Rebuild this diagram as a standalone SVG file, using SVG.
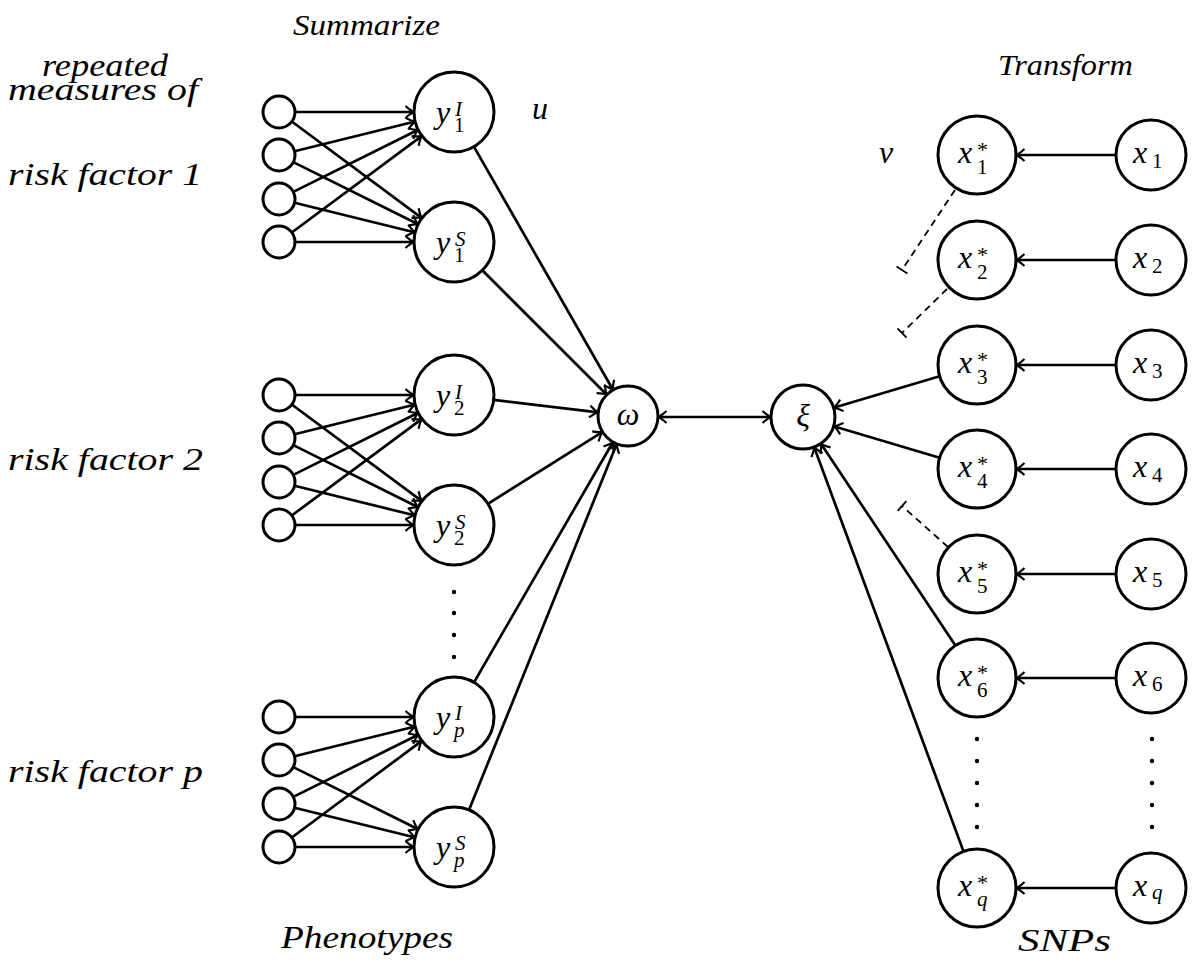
<svg xmlns="http://www.w3.org/2000/svg" width="1200" height="965" viewBox="0 0 1200 965">
<style>
.n{fill:#fff;stroke:#000;stroke-width:3}
.e{fill:none;stroke:#000;stroke-width:2.7}
.d{fill:none;stroke:#000;stroke-width:1.8;stroke-dasharray:7 5}
.t{font-style:italic;font-size:32px}
.h{font-style:italic;font-size:30px}
.m{font-style:italic;font-size:32px}
.si{font-style:italic;font-size:21px}
.sr{font-size:21px}
.ast{font-size:22px}
.dot{fill:#000}
</style>
<defs>
<marker id="arr" viewBox="-10 -7 12 14" refX="0" refY="0" markerWidth="12" markerHeight="14" markerUnits="userSpaceOnUse" orient="auto-start-reverse">
<path d="M-8.5,-6 Q-3,-1 0,0 Q-3,1 -8.5,6" fill="none" stroke="#000" stroke-width="2.2"/>
</marker>
<marker id="bar" viewBox="-2 -8 4 16" refX="0" refY="0" markerWidth="4" markerHeight="16" markerUnits="userSpaceOnUse" orient="auto">
<path d="M0,-6.5 L0,6.5" fill="none" stroke="#000" stroke-width="1.8"/>
</marker>
</defs>
<rect width="1200" height="965" fill="#fff"/>

<g id="connectors">
<g marker-end="url(#arr)" class="e">
<path class="e" d="M295 112 L414 112"/>
<path class="e" d="M291.8 121.5 L421.9 218.2"/>
<path class="e" d="M294.5 151.2 L415.2 121.5"/>
<path class="e" d="M293.3 162.1 L418.2 224.2"/>
<path class="e" d="M293.3 191.9 L418.2 129.8"/>
<path class="e" d="M294.5 202.8 L415.2 232.5"/>
<path class="e" d="M291.8 232.5 L421.9 135.8"/>
<path class="e" d="M295 242 L414 242"/>
<path class="e" d="M295 395 L414 395"/>
<path class="e" d="M291.8 404.5 L421.9 501.2"/>
<path class="e" d="M294.5 434.2 L415.2 404.5"/>
<path class="e" d="M293.3 445.1 L418.2 507.2"/>
<path class="e" d="M293.3 474.9 L418.2 412.8"/>
<path class="e" d="M294.5 485.8 L415.2 515.5"/>
<path class="e" d="M291.8 515.5 L421.9 418.8"/>
<path class="e" d="M295 525 L414 525"/>
<path class="e" d="M295 717 L414 717"/>
<path class="e" d="M294.5 756.2 L415.2 726.5"/>
<path class="e" d="M293.3 767.1 L418.2 829.2"/>
<path class="e" d="M293.3 796.9 L418.2 734.8"/>
<path class="e" d="M294.5 807.8 L415.2 837.5"/>
<path class="e" d="M291.8 837.5 L421.9 740.8"/>
<path class="e" d="M295 847 L414 847"/>
<path class="e" d="M473.9 146.7 L613.1 390"/>
<path class="e" d="M482.3 270.3 L606.8 394.8"/>
<path class="e" d="M493.7 399.8 L598.2 412.4"/>
<path class="e" d="M487.9 503.8 L602.6 431.9"/>
<path class="e" d="M474 682.4 L613 442"/>
<path class="e" d="M469 809.9 L616.8 443.8"/>
<path class="e" d="M939.6 376.2 L833.7 407.8"/>
<path class="e" d="M939.6 457.8 L833.7 426.2"/>
<path class="e" d="M955.4 645.6 L820.8 443.6"/>
<path class="e" d="M963.5 851.4 L814.1 447"/>
<path class="e" d="M1116 155 L1016 155"/>
<path class="e" d="M1116 260 L1016 260"/>
<path class="e" d="M1116 365 L1016 365"/>
<path class="e" d="M1116 469 L1016 469"/>
<path class="e" d="M1116 574 L1016 574"/>
<path class="e" d="M1116 678 L1016 678"/>
<path class="e" d="M1116 888 L1016 888"/>
</g>
<path class="e" d="M658 417 L771 417" marker-start="url(#arr)" marker-end="url(#arr)"/>
<path class="d" d="M955 190 L902 270" marker-end="url(#bar)"/>
<path class="d" d="M947 289 L902 333" marker-end="url(#bar)"/>
<path class="d" d="M948 547 L902 506" marker-end="url(#bar)"/>
</g>

<g id="dots">
<circle class="dot" cx="454" cy="592" r="2.2"/>
<circle class="dot" cx="454" cy="613" r="2.2"/>
<circle class="dot" cx="454" cy="635" r="2.2"/>
<circle class="dot" cx="454" cy="657" r="2.2"/>
<circle class="dot" cx="977" cy="739" r="2.2"/>
<circle class="dot" cx="977" cy="761" r="2.2"/>
<circle class="dot" cx="977" cy="783" r="2.2"/>
<circle class="dot" cx="977" cy="805" r="2.2"/>
<circle class="dot" cx="977" cy="827" r="2.2"/>
<circle class="dot" cx="1152" cy="739" r="2.2"/>
<circle class="dot" cx="1152" cy="761" r="2.2"/>
<circle class="dot" cx="1152" cy="783" r="2.2"/>
<circle class="dot" cx="1152" cy="805" r="2.2"/>
<circle class="dot" cx="1152" cy="827" r="2.2"/>
</g>

<g id="m1a"><circle class="n" cx="279" cy="112" r="16"/></g>
<g id="m1b"><circle class="n" cx="279" cy="155" r="16"/></g>
<g id="m1c"><circle class="n" cx="279" cy="199" r="16"/></g>
<g id="m1d"><circle class="n" cx="279" cy="242" r="16"/></g>
<g id="m2a"><circle class="n" cx="279" cy="395" r="16"/></g>
<g id="m2b"><circle class="n" cx="279" cy="438" r="16"/></g>
<g id="m2c"><circle class="n" cx="279" cy="482" r="16"/></g>
<g id="m2d"><circle class="n" cx="279" cy="525" r="16"/></g>
<g id="mpa"><circle class="n" cx="279" cy="717" r="16"/></g>
<g id="mpb"><circle class="n" cx="279" cy="760" r="16"/></g>
<g id="mpc"><circle class="n" cx="279" cy="804" r="16"/></g>
<g id="mpd"><circle class="n" cx="279" cy="847" r="16"/></g>

<g font-family="'Liberation Serif', serif" fill="#000">
<g id="y1I"><circle class="n" cx="454" cy="112" r="40"/>
<text class="t" x="436" y="123">y</text><text class="si" x="455" y="116">I</text><text class="sr" x="454" y="132">1</text></g>
<g id="y1S"><circle class="n" cx="454" cy="242" r="40"/>
<text class="t" x="436" y="253">y</text><text class="si" x="455" y="246">S</text><text class="sr" x="454" y="262">1</text></g>
<g id="y2I"><circle class="n" cx="454" cy="395" r="40"/>
<text class="t" x="436" y="406">y</text><text class="si" x="455" y="399">I</text><text class="sr" x="454" y="415">2</text></g>
<g id="y2S"><circle class="n" cx="454" cy="525" r="40"/>
<text class="t" x="436" y="536">y</text><text class="si" x="455" y="529">S</text><text class="sr" x="454" y="545">2</text></g>
<g id="ypI"><circle class="n" cx="454" cy="717" r="40"/>
<text class="t" x="436" y="728">y</text><text class="si" x="455" y="720">I</text><text class="si" x="454" y="737">p</text></g>
<g id="ypS"><circle class="n" cx="454" cy="847" r="40"/>
<text class="t" x="436" y="858">y</text><text class="si" x="455" y="850">S</text><text class="si" x="454" y="867">p</text></g>

<g id="omega"><circle class="n" cx="628" cy="416" r="30"/><text class="t" x="628" y="425" text-anchor="middle">ω</text></g>
<g id="xi"><circle class="n" cx="803" cy="417" r="32"/><text class="t" x="803" y="426" text-anchor="middle">ξ</text></g>

<g id="xs1"><circle class="n" cx="977" cy="155" r="39"/><text class="t" x="958" y="163">x</text><text class="ast" x="977" y="157">*</text><text class="sr" x="977" y="174">1</text></g>
<g id="xs2"><circle class="n" cx="977" cy="260" r="39"/><text class="t" x="958" y="268">x</text><text class="ast" x="977" y="262">*</text><text class="sr" x="977" y="279">2</text></g>
<g id="xs3"><circle class="n" cx="977" cy="365" r="39"/><text class="t" x="958" y="373">x</text><text class="ast" x="977" y="367">*</text><text class="sr" x="977" y="384">3</text></g>
<g id="xs4"><circle class="n" cx="977" cy="469" r="39"/><text class="t" x="958" y="477">x</text><text class="ast" x="977" y="471">*</text><text class="sr" x="977" y="488">4</text></g>
<g id="xs5"><circle class="n" cx="977" cy="574" r="39"/><text class="t" x="958" y="582">x</text><text class="ast" x="977" y="576">*</text><text class="sr" x="977" y="593">5</text></g>
<g id="xs6"><circle class="n" cx="977" cy="678" r="39"/><text class="t" x="958" y="686">x</text><text class="ast" x="977" y="680">*</text><text class="sr" x="977" y="697">6</text></g>
<g id="xsq"><circle class="n" cx="977" cy="888" r="39"/><text class="t" x="958" y="896">x</text><text class="ast" x="977" y="890">*</text><text class="si" x="977" y="906">q</text></g>

<g id="x1"><circle class="n" cx="1151" cy="155" r="35"/><text class="t" x="1133" y="163">x</text><text class="sr" x="1152" y="168">1</text></g>
<g id="x2"><circle class="n" cx="1151" cy="260" r="35"/><text class="t" x="1133" y="268">x</text><text class="sr" x="1152" y="273">2</text></g>
<g id="x3"><circle class="n" cx="1151" cy="365" r="35"/><text class="t" x="1133" y="373">x</text><text class="sr" x="1152" y="378">3</text></g>
<g id="x4"><circle class="n" cx="1151" cy="469" r="35"/><text class="t" x="1133" y="477">x</text><text class="sr" x="1152" y="482">4</text></g>
<g id="x5"><circle class="n" cx="1151" cy="574" r="35"/><text class="t" x="1133" y="582">x</text><text class="sr" x="1152" y="587">5</text></g>
<g id="x6"><circle class="n" cx="1151" cy="678" r="35"/><text class="t" x="1133" y="686">x</text><text class="sr" x="1152" y="691">6</text></g>
<g id="xq"><circle class="n" cx="1151" cy="888" r="35"/><text class="t" x="1133" y="896">x</text><text class="si" x="1152" y="899">q</text></g>

<g id="labels">
<text class="h" x="293" y="35" textLength="147" lengthAdjust="spacingAndGlyphs">Summarize</text>
<text class="h" x="998" y="75" textLength="135" lengthAdjust="spacingAndGlyphs">Transform</text>
<text class="m" x="42" y="76" textLength="126" lengthAdjust="spacingAndGlyphs">repeated</text>
<text class="m" x="8" y="100" textLength="190" lengthAdjust="spacingAndGlyphs">measures of</text>
<text class="m" x="8" y="185" textLength="194" lengthAdjust="spacingAndGlyphs">risk factor 1</text>
<text class="m" x="8" y="470" textLength="195" lengthAdjust="spacingAndGlyphs">risk factor 2</text>
<text class="m" x="8" y="782" textLength="195" lengthAdjust="spacingAndGlyphs">risk factor p</text>
<text class="m" x="281" y="948" textLength="172" lengthAdjust="spacingAndGlyphs">Phenotypes</text>
<text class="m" x="1018" y="951" textLength="93" lengthAdjust="spacingAndGlyphs">SNPs</text>
<text class="t" x="532" y="119">u</text>
<text class="t" x="879" y="163">v</text>
</g>
</g>
</svg>
